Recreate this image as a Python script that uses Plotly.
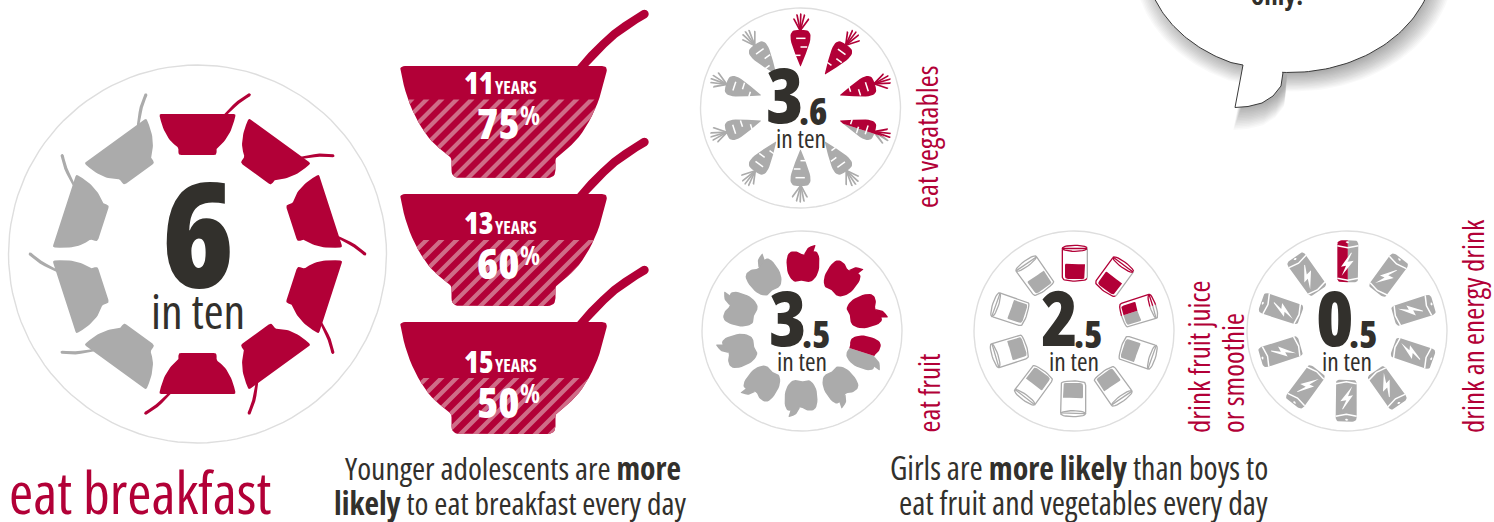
import math
import plotly.graph_objects as go

# ---------- data ----------
breakfast_in_ten = 6
age_groups = ["11", "13", "15"]
age_percent = [75, 60, 50]
age_fill_share = [0.70, 0.59, 0.50]      # height of the hatched band in each bowl
ring_labels = ["eat vegatables", "eat fruit", "drink fruit juice", "or smoothie", "drink an energy drink"]
ring_values = [3.6, 3.5, 2.5, 0.5]
ring_kinds = ["carrot", "apple", "glass", "battery"]

RED, GRAY, DARK, PINK, RING = "#b20037", "#ababab", "#32302c", "#cf6d88", "#dedede"
FONT = "Open Sans"
W, H = 1494, 522

# ---------- geometry helpers ----------
def rounded(pts, default=99, n=6):
    out, m = [], len(pts)
    for i in range(m):
        p = pts[i]; a = pts[i - 1]; b = pts[(i + 1) % m]
        r = p[2] if len(p) > 2 else default
        la = math.hypot(a[0] - p[0], a[1] - p[1]); lb = math.hypot(b[0] - p[0], b[1] - p[1])
        da, db = min(r, la / 2), min(r, lb / 2)
        s = (p[0] + (a[0] - p[0]) * da / la, p[1] + (a[1] - p[1]) * da / la)
        e = (p[0] + (b[0] - p[0]) * db / lb, p[1] + (b[1] - p[1]) * db / lb)
        for k in range(n + 1):
            t = k / n
            out.append(((1 - t) ** 2 * s[0] + 2 * t * (1 - t) * p[0] + t * t * e[0],
                        (1 - t) ** 2 * s[1] + 2 * t * (1 - t) * p[1] + t * t * e[1]))
    return out

def clip(poly, a, b, c):
    out = []
    for i in range(len(poly)):
        p, q = poly[i], poly[(i + 1) % len(poly)]
        fp, fq = a * p[0] + b * p[1] - c, a * q[0] + b * q[1] - c
        if fp <= 0:
            out.append(p)
        if fp * fq < 0:
            t = fp / (fp - fq)
            out.append((p[0] + (q[0] - p[0]) * t, p[1] + (q[1] - p[1]) * t))
    return out

def clip_line(line, a, c):
    """Pieces of an open polyline that satisfy a*x <= c."""
    pieces, cur = [], []
    for p, q in zip(line, line[1:]):
        fp, fq = a * p[0] - c, a * q[0] - c
        if fp <= 0:
            if not cur:
                cur = [p]
            if fq <= 0:
                cur.append(q)
            else:
                t = fp / (fp - fq)
                cur.append((p[0] + (q[0] - p[0]) * t, p[1] + (q[1] - p[1]) * t))
                pieces.append(cur); cur = []
        elif fq <= 0:
            t = fp / (fp - fq)
            cur = [(p[0] + (q[0] - p[0]) * t, p[1] + (q[1] - p[1]) * t), q]
    if cur:
        pieces.append(cur)
    return pieces

def stroke(line, w):
    left, right = [], []
    for i, p in enumerate(line):
        a = line[max(i - 1, 0)]; b = line[min(i + 1, len(line) - 1)]
        dx, dy = b[0] - a[0], b[1] - a[1]
        l = math.hypot(dx, dy) or 1
        nx, ny = -dy / l * w / 2, dx / l * w / 2
        left.append((p[0] + nx, p[1] + ny)); right.append((p[0] - nx, p[1] - ny))
    def cap(p, s):
        ang = math.atan2(s[1] - p[1], s[0] - p[0])
        return [(p[0] + w / 2 * math.cos(ang - k * math.pi / 6), p[1] + w / 2 * math.sin(ang - k * math.pi / 6)) for k in range(1, 6)]
    return left + cap(line[-1], left[-1]) + right[::-1] + cap(line[0], right[0])

def ellipse(cx, cy, rx, ry, n=28):
    return [(cx + rx * math.cos(2 * math.pi * k / n), cy + ry * math.sin(2 * math.pi * k / n)) for k in range(n)]

def place(pts, cx, cy, deg):
    """Local (x, r): x sideways, r outward at 12 o'clock; rotate clockwise by deg."""
    th = math.radians(deg)
    return [(cx + x * math.cos(th) + r * math.sin(th), cy + x * math.sin(th) - r * math.cos(th)) for x, r in pts]

fig = go.Figure()

def draw(polys, color):
    xs, ys = [], []
    for poly in polys:
        if len(poly) < 3:
            continue
        xs += [p[0] for p in poly] + [poly[0][0], None]
        ys += [p[1] for p in poly] + [poly[0][1], None]
    if xs:
        fig.add_trace(go.Scatter(x=xs, y=ys, mode="lines", fill="toself", fillcolor=color,
                                 line=dict(width=0, color=color), hoverinfo="skip", showlegend=False))

def draw_lines(lines, color, w):
    xs, ys = [], []
    for ln in lines:
        xs += [p[0] for p in ln] + [None]
        ys += [p[1] for p in ln] + [None]
    if xs:
        fig.add_trace(go.Scatter(x=xs, y=ys, mode="lines", line=dict(width=w, color=color),
                                 hoverinfo="skip", showlegend=False))

annotations = []
def text(x, y, s, size, color=DARK, xa="center", ya="middle", angle=0, weight=None):
    font = dict(family=FONT, size=size, color=color)
    if weight:
        font["weight"] = weight
    annotations.append(dict(x=x, y=y, xref="x", yref="y", text=f"<span style='font-stretch:condensed'>{s}</span>",
                            showarrow=False, xanchor=xa, yanchor=ya, textangle=angle, borderpad=0, borderwidth=0, font=font))

def ring(cx, cy, r):
    draw_lines([ellipse(cx, cy, r, r, 120) + [(cx + r, cy)]], RING, 1.4)

# ---------- bowl template (x, depth below rim, in big-bowl pixels) ----------
half = [(104.5, 0, 6), (95, 38), (76, 73), (52, 92, 3), (52, 112, 8)]
BOWL = rounded(half + [(-p[0], p[1], *p[2:]) for p in half[::-1]])
SPOON = [(77, 2), (88, -10), (100, -22), (111, -32), (122, -40), (132, -46.5), (141, -52)]

# ---------- main breakfast ring ----------
MC = (197.5, 254)
ring(*MC, 189)
s = 76 / 207
for i in range(10):
    col = RED if i < breakfast_in_ten else GRAY
    body = [(x * s, 140 - y * s) for x, y in BOWL]
    sp = stroke([(x * s, 140 - y * s) for x, y in SPOON], 3.2)
    draw([place(body, *MC, 36 * i)], col)
    draw([place(sp, *MC, 36 * i)], col)
text(197.5, 231, f"{breakfast_in_ten}", 146, weight=800)
text(197.5, 310, "in ten", 48)
text(9, 491, "eat breakfast", 58.5, RED, xa="left")

# ---------- three big bowls ----------
BX = 503.5
for n, (age, pct, share) in enumerate(zip(age_groups, age_percent, age_fill_share)):
    top = 66 + 128 * n
    body = [(BX + x, top + y) for x, y in BOWL]
    draw([body], RED)
    draw([stroke([(BX + x, top + y) for x, y in SPOON], 8.5)], RED)
    level = top + 112 * (1 - share)
    band = clip(body, 0, -1, -level)
    stripes = []
    for k in range(-3, 45):
        lo = BX + level - 110 + 15 * k
        st = clip(clip(band, -1, -1, -lo), 1, 1, lo + 6)
        stripes.append(st)
    draw(stripes, PINK)
    text(494, level - 17, f"{age}", 30, "white", xa="right", weight=800)
    text(495, level - 13, "<b>YEARS</b>", 17.5, "white", xa="left")
    text(BX + 16, level + 23, f"{pct}", 43, "white", xa="right", weight=800)
    text(BX + 16, level + 15, "<b>%</b>", 26, "white", xa="left")

text(513, 467, "Younger adolescents are <b>more</b>", 31.7)
text(510, 502, "<b>likely</b> to eat breakfast every day", 31.7)
text(1079, 467, "Girls are <b>more likely</b> than boys to", 32)
text(1083, 502, "eat fruit and vegetables every day", 32)

# ---------- small-ring icon templates, traced on the reference at 3x ----------
def zc(pts, ox, oy):
    return [((p[0] - ox) / 3, (oy - p[1]) / 3, *p[2:]) for p in pts]

def icon_carrot():
    o = (316, 324)
    body = rounded(zc([(316, 201, 1), (348, 122), (344, 90, 6), (288, 90, 6), (284, 122)], *o))
    fronds = [stroke([(l[0], l[1]) for l in zc([(316, 92), e], *o)], 2.2)
              for e in [(296, 58), (305, 46), (316, 43), (327, 46), (339, 58)]]
    slits = [zc([(303, 115), (331, 115)], *o), zc([(316, 141), (336, 141)], *o), zc([(300, 166), (316, 166)], *o)]
    return [body] + fronds, slits, [], (-8.7, 8.7)

def icon_apple():
    o = (321, 318)
    body = rounded(zc([(325, 90, 2), (345, 76), (373, 80), (374, 140), (350, 174), (322, 166, 2),
                       (296, 174), (274, 140), (275, 85), (300, 76)], *o))
    leaf = rounded(zc([(327, 88, 1), (336, 68, 4), (362, 59, 1), (356, 84, 4)], *o))
    return [body, leaf], [], [], (-15, 18)

def icon_glass():
    o = (312, 318)
    liquid = rounded(zc([(285, 116, 1), (315, 119), (345, 116, 1), (345, 162, 3), (285, 162, 3)], *o))
    out = rounded(zc([(277, 70, 1), (352, 70, 1), (352, 164, 3), (315, 170), (277, 164, 3)], *o))
    rim = zc(ellipse(314.5, 70, 37.5, 9), *o)
    lines = [out + out[:1], rim + rim[:1]]
    return [liquid], [], lines, (-12.5, 13)

def icon_battery():
    o = (321, 318)
    body = rounded(zc([(292, 46, 4.5), (355, 46, 4.5), (355, 172, 4.5), (292, 172, 4.5)], *o))
    bolt = zc([(333, 83), (303, 125), (318, 122), (305, 152), (341, 107), (323, 110), (336, 83)], *o)
    dot = zc(ellipse(322, 52, 5, 3, 12), *o)
    arcs = [zc([(292, 62), (323, 68), (355, 62)], *o), zc([(292, 160), (323, 166), (355, 160)], *o)]
    return [body], arcs, [bolt, dot], (-9.7, 11.3)

ICONS = dict(carrot=icon_carrot, apple=icon_apple, glass=icon_glass, battery=icon_battery)
CENTRES = [(800.5, 108), (802, 331), (1074, 331), (1347, 331)]
NUDGE = [3, 4.5, 4.5, 6.5]

for kind, value, (cx, cy), nudge in zip(ring_kinds, ring_values, CENTRES, NUDGE):
    ring(cx, cy, 100)
    fills, slits, extra, (xmin, xmax) = ICONS[kind]()
    whites, red_l, gray_l, white_l = [], [], [], []
    for f in fills:                         # one trace per part: overlapping parts must not cancel
        red, gray = [], []
        for i in range(10):
            deg = 36 * i
            share = max(0.0, min(1.0, value - i))
            cut = xmin + share * (xmax - xmin)
            if share >= 1:
                red.append(place(f, cx, cy, deg))
            elif share <= 0:
                gray.append(place(f, cx, cy, deg))
            else:
                red.append(place(clip(f, 1, 0, cut), cx, cy, deg))
                gray.append(place(clip(f, -1, 0, -cut), cx, cy, deg))
        draw(gray, GRAY); draw(red, RED)
    for i in range(10):
        deg = 36 * i
        share = max(0.0, min(1.0, value - i))
        cut = xmin + share * (xmax - xmin)
        if kind == "glass":
            for ln in extra:
                for piece in clip_line(ln, 1, cut):
                    red_l.append(place(piece, cx, cy, deg))
                for piece in clip_line(ln, -1, -cut):
                    gray_l.append(place(piece, cx, cy, deg))
        else:
            for w in extra:
                whites.append(place(w, cx, cy, deg))
            for sl in slits:
                white_l.append(place(sl, cx, cy, deg))
    draw(whites, "white")
    draw_lines(white_l, "white", 1.5)
    draw_lines(gray_l, GRAY, 1.3); draw_lines(red_l, RED, 1.3)
    whole, dec = f"{value:.1f}".split(".")
    mx = cx + nudge
    text(mx, cy - 15, whole, 76, xa="right", weight=800)
    text(mx - 5, cy + 2, f".{dec}", 37, xa="left", weight=800)
    text(cx, cy + 30, "in ten", 25.5)

text(926, 208, ring_labels[0], 29, RED, ya="bottom", angle=-90)
text(928, 433, ring_labels[1], 29, RED, ya="bottom", angle=-90)
text(1198, 433, ring_labels[2], 29, RED, ya="bottom", angle=-90)
text(1232, 433, ring_labels[3], 29, RED, ya="bottom", angle=-90)
text(1472, 433, ring_labels[4], 29, RED, ya="bottom", angle=-90)

# ---------- speech bubble, running off the top ----------
bx, by, ba, bb = 1290, -42.5, 145, 115
def arc(a0, a1, n=60):
    return [(bx + ba * math.cos(math.radians(a0 + (a1 - a0) * k / n)), by + bb * math.sin(math.radians(a0 + (a1 - a0) * k / n))) for k in range(n + 1)]
tail = [(1283, 72.5), (1281, 86), (1273, 96), (1262, 103), (1248, 106.5), (1235, 107.5), (1243, 65)]
bubble = arc(-10, 93) + tail + arc(114, 190)
for k in range(14, -1, -1):
    f = 0.95 + k * 0.011
    draw([[(bx + 4 + (x - bx) * f, by + 7 + (y - by) * f) for x, y in bubble]], "rgba(0,0,0,0.022)")
draw([bubble], "white")
draw_lines([bubble], "#3a3a3a", 1)
text(1277, 13, "<b>only!</b>", 27, ya="bottom")

fig.update_layout(width=W, height=H, autosize=False, margin=dict(l=0, r=0, t=0, b=0),
                  paper_bgcolor="white", plot_bgcolor="white", showlegend=False, annotations=annotations,
                  xaxis=dict(range=[0, W], visible=False, fixedrange=True),
                  yaxis=dict(range=[H, 0], visible=False, fixedrange=True))
fig.write_html("out.html", config=dict(displayModeBar=False),
               post_script="document.body.style.margin='0';document.body.style.overflow='hidden';")
